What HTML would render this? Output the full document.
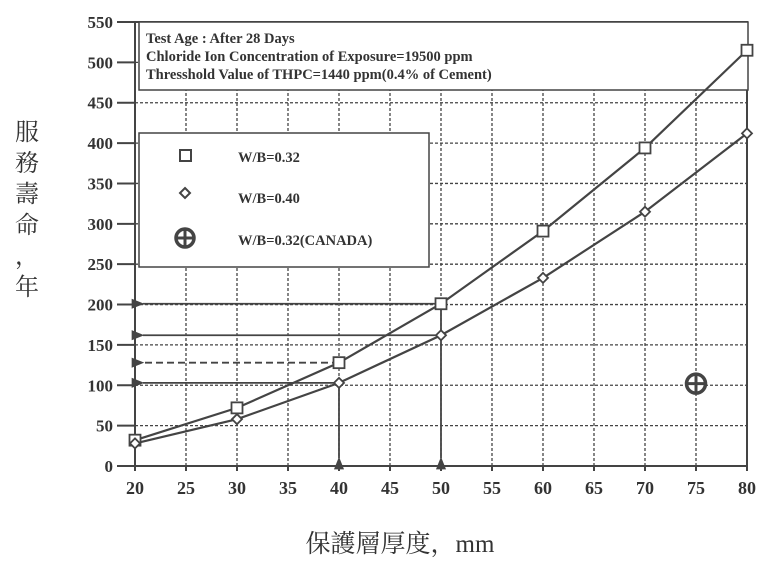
<!DOCTYPE html>
<html><head><meta charset="utf-8"><style>
body{margin:0;background:#fff;width:764px;height:575px;overflow:hidden}
svg{display:block}
text{font-family:"Liberation Serif","Noto Serif CJK SC",serif;fill:#333}
</style></head><body>
<svg id="c" width="764" height="575" viewBox="0 0 764 575"></svg>
<script>
const xTicks=[20,25,30,35,40,45,50,55,60,65,70,75,80];
const yTicks=[0,50,100,150,200,250,300,350,400,450,500,550];
const thick=[20,30,40,50,60,70,80];
const wb32=[32,72,128,201,291,394,515];
const wb40=[28,58,103,162,233,315,412];
const canadaX=[75];
const canadaY=[102];
const X=v=>135+(v-20)*(612/60);
const Y=v=>466-v*(444/550);
const svg=document.getElementById('c');
const NS='http://www.w3.org/2000/svg';
function el(t,a,name,parent){const e=document.createElementNS(NS,t);for(const k in a)e.setAttribute(k,a[k]);


(parent||svg).appendChild(e);return e;}
const C='#444';
el('defs',{},'defs').innerHTML='<marker id="ar" viewBox="0 0 10 10" refX="1" refY="5" markerWidth="7" markerHeight="7" orient="auto-start-reverse"><path d="M0,5 L10,1 L10,9 z" fill="#444"/></marker>';
yTicks.forEach(v=>{if(v>0&&v<550)el('line',{x1:X(20),x2:X(80),y1:Y(v),y2:Y(v),stroke:C,'stroke-width':1.3,'stroke-dasharray':'3 2'},'h-gridline');});
xTicks.forEach(v=>{if(v>20&&v<80)el('line',{x1:X(v),x2:X(v),y1:Y(0),y2:Y(550),stroke:C,'stroke-width':1.3,'stroke-dasharray':'3 2'},'v-gridline');});
el('rect',{x:X(20),y:Y(550),width:X(80)-X(20),height:Y(0)-Y(550),fill:'none',stroke:C,'stroke-width':2},'plot-frame');
yTicks.forEach(v=>{el('line',{x1:X(20)-18,x2:X(20),y1:Y(v),y2:Y(v),stroke:C,'stroke-width':2},'y-tick');
const t=el('text',{x:X(20)-22,y:Y(v)+6,'text-anchor':'end','font-size':17,'font-weight':'bold'},'y-tick-label');t.textContent=v;});
xTicks.forEach(v=>{el('line',{x1:X(v),x2:X(v),y1:Y(0),y2:Y(0)+5,stroke:C,'stroke-width':2},'x-tick');
const t=el('text',{x:X(v),y:Y(0)+28,'text-anchor':'middle','font-size':18,'font-weight':'bold'},'x-tick-label');t.textContent=v;});
el('rect',{x:139,y:22,width:609,height:68,fill:'#fff',stroke:C,'stroke-width':1.5},'info-box');
['Test Age : After 28 Days','Chloride Ion Concentration of Exposure=19500 ppm','Thresshold Value of THPC=1440 ppm(0.4% of Cement)'].forEach((s,i)=>{
const t=el('text',{x:146,y:43+i*18,'font-size':14.5,'font-weight':'bold'},'info-line');t.textContent=s;});
el('rect',{x:139,y:133,width:290,height:134,fill:'#fff',stroke:C,'stroke-width':1.5},'legend-box');
el('rect',{x:180,y:150,width:11,height:11,fill:'#fff',stroke:C,'stroke-width':2},'legend-square-marker');
el('path',{d:'M185,188 l5,5 l-5,5 l-5,-5z',fill:'#fff',stroke:C,'stroke-width':2},'legend-diamond-marker');
el('circle',{cx:185,cy:238,r:9,fill:'none',stroke:C,'stroke-width':3.5},'legend-canada-marker');
el('path',{d:'M176,238 h18 M185,229 v18',stroke:C,'stroke-width':3},'legend-canada-cross');
[['W/B=0.32',162],['W/B=0.40',203],['W/B=0.32(CANADA)',245]].forEach(a=>{const t=el('text',{x:238,y:a[1],'font-size':14.5,'font-weight':'bold'},'legend-label');t.textContent=a[0];});
function curve(vals,name){let d='';vals.forEach((v,i)=>{d+=(i?'L':'M')+X(thick[i])+','+Y(v);});el('path',{d:d,fill:'none',stroke:C,'stroke-width':2.2},name);}
curve(wb32,'wb032-line');curve(wb40,'wb040-line');
function harrow2(xv,yv,dash){const a={x1:X(xv),y1:Y(yv),x2:X(20)+8,y2:Y(yv),stroke:C,'stroke-width':1.8,'marker-end':'url(#ar)'};if(dash)a['stroke-dasharray']='7 4';el('line',a,'h-guide-arrow');}
harrow2(50,wb32[3]);harrow2(50,wb40[3]);harrow2(40,wb32[2],true);harrow2(40,wb40[2]);
el('line',{x1:X(40),y1:Y(wb40[2]),x2:X(40),y2:Y(0)-8,stroke:C,'stroke-width':1.8,'marker-end':'url(#ar)'},'v-guide-arrow');
el('line',{x1:X(50),y1:Y(wb32[3]),x2:X(50),y2:Y(0)-8,stroke:C,'stroke-width':1.8,'marker-end':'url(#ar)'},'v-guide-arrow');
wb32.forEach((v,i)=>el('rect',{x:X(thick[i])-5.5,y:Y(v)-5.5,width:11,height:11,fill:'#fff',stroke:C,'stroke-width':1.8},'wb032-point'));
wb40.forEach((v,i)=>el('path',{d:`M${X(thick[i])},${Y(v)-5} l5,5 l-5,5 l-5,-5z`,fill:'#fff',stroke:C,'stroke-width':1.8},'wb040-point'));
canadaX.forEach((xv,i)=>{el('circle',{cx:X(xv),cy:Y(canadaY[i]),r:9.5,fill:'#fff',stroke:C,'stroke-width':3.5},'canada-point');
el('path',{d:`M${X(xv)-10},${Y(canadaY[i])} h20 M${X(xv)},${Y(canadaY[i])-10} v20`,stroke:C,'stroke-width':3},'canada-point-cross');});
['服','務','壽','命','，','年'].forEach((ch,i)=>{const t=el('text',{x:27,y:140+i*31,'text-anchor':'middle','font-size':24},'y-axis-title-char');t.textContent=ch;});
const xt=el('text',{x:400,y:552,'text-anchor':'middle','font-size':25},'x-axis-title');xt.textContent='保護層厚度，mm';
</script>
</body></html>
